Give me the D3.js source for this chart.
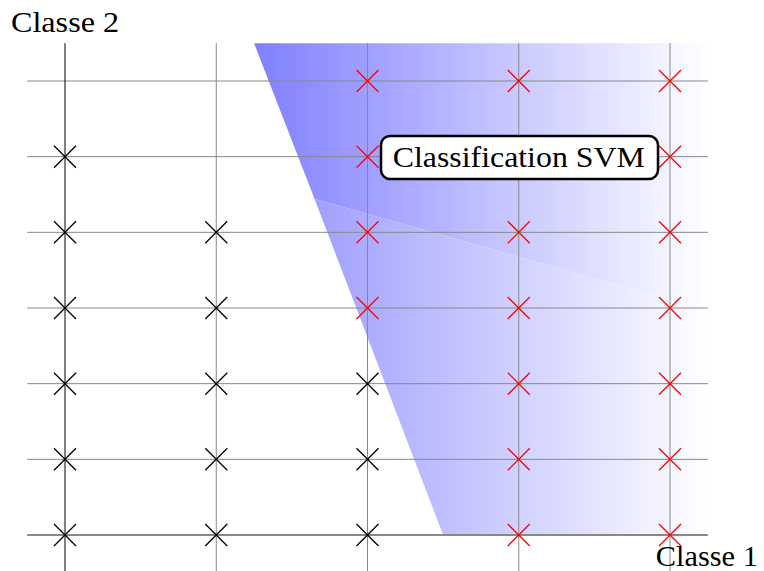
<!DOCTYPE html>
<html><head><meta charset="utf-8">
<script src="https://cdn.jsdelivr.net/npm/d3@7"></script>
<style>body{margin:0;background:#fff}svg{display:block}</style>
</head><body>
<script>
// Data
const xTicks = [0, 1, 2, 3, 4];
const yTicks = [0, 1, 2, 3, 4, 5, 6];
const class1Points = [ // black crosses
  [0,0],[0,1],[0,2],[0,3],[0,4],[0,5],
  [1,0],[1,1],[1,2],[1,3],[1,4],
  [2,0],[2,1],[2,2]
];
const class2Points = [ // red crosses
  [2,3],[2,4],[2,5],[2,6],
  [3,0],[3,1],[3,2],[3,3],[3,4],[3,5],[3,6],
  [4,0],[4,1],[4,2],[4,3],[4,4],[4,5],[4,6]
];
const regionUpper = [[1.25,6.5],[4.25,6.5],[4.25,2.97],[1.65,4.44]];
const regionLower = [[1.65,4.44],[4.25,2.97],[4.25,0],[2.5,0]];
const gradUpperX = [1.25, 4.25];
const gradLowerX = [0.75, 4.25];
const xDomain = [-0.25, 4.25];
const yDomain = [-0.5, 6.5];
const labelText = "Classification SVM";
const labelPos = [3, 5];
const xAxisLabel = "Classe 1";
const yAxisLabel = "Classe 2";

const W = 764, H = 571;
const x = d3.scaleLinear().domain([0, 4]).range([65, 670]);
const y = d3.scaleLinear().domain([0, 6]).range([535, 81]);

const svg = d3.select("body").append("svg").attr("width", W).attr("height", H);
const defs = svg.append("defs");

function addGrad(id, gx) {
  const g = defs.append("linearGradient").attr("id", id)
    .attr("gradientUnits", "userSpaceOnUse")
    .attr("x1", x(gx[0])).attr("x2", x(gx[1])).attr("y1", 0).attr("y2", 0);
  g.append("stop").attr("offset", 0).attr("stop-color", "rgb(127,127,255)");
  g.append("stop").attr("offset", 1).attr("stop-color", "#fff");
}
addGrad("gU", gradUpperX);
addGrad("gL", gradLowerX);

const line = d3.line().x(d => x(d[0])).y(d => y(d[1]));
svg.append("path").attr("d", line(regionUpper) + "Z").attr("fill", "url(#gU)");
svg.append("path").attr("d", line(regionLower) + "Z").attr("fill", "url(#gL)");

// grid
const grid = svg.append("g");
grid.selectAll("line.h").data(yTicks).join("line").attr("class", "h")
  .attr("x1", x(xDomain[0])).attr("x2", x(xDomain[1]))
  .attr("y1", d => y(d)).attr("y2", d => y(d))
  .attr("stroke", "#888").attr("stroke-width", d => d === 0 ? 2 : 1);
grid.selectAll("line.v").data(xTicks).join("line").attr("class", "v")
  .attr("y1", y(yDomain[1])).attr("y2", y(yDomain[0]))
  .attr("x1", d => x(d)).attr("x2", d => x(d))
  .attr("stroke", d => d === 0 ? "#000" : "#888").attr("stroke-width", 1);

// crosses
const s = 11;
function crosses(data, color, cls) {
  const g = svg.append("g").attr("class", cls).attr("stroke", color).attr("stroke-width", 1.3);
  g.selectAll("path").data(data).join("path")
    .attr("d", d => {
      const cx = x(d[0]), cy = y(d[1]);
      return `M${cx-s},${cy-s}L${cx+s},${cy+s}M${cx-s},${cy+s}L${cx+s},${cy-s}`;
    });
}
crosses(class1Points, "#000", "c1");
crosses(class2Points, "#f00", "c2");

const font = "'Liberation Serif', serif";
// label box
const lbl = svg.append("g");
lbl.append("rect")
  .attr("x", 381).attr("y", 136).attr("width", 658 - 381).attr("height", 179 - 136)
  .attr("rx", 9).attr("fill", "#fff").attr("stroke", "#000").attr("stroke-width", 2.5);
lbl.append("text").attr("x", x(labelPos[0])).attr("y", y(labelPos[1]) + 10)
  .attr("text-anchor", "middle").attr("font-family", font).attr("font-size", 30)
  .attr("textLength", 252).attr("lengthAdjust", "spacingAndGlyphs")
  .text(labelText);

svg.append("text").attr("x", x(0)).attr("y", 32).attr("text-anchor", "middle")
  .attr("font-family", font).attr("font-size", 30)
  .attr("textLength", 108).attr("lengthAdjust", "spacingAndGlyphs").text(yAxisLabel);
svg.append("text").attr("x", x(xDomain[1]) - 1).attr("y", 566).attr("text-anchor", "middle")
  .attr("font-family", font).attr("font-size", 30)
  .attr("textLength", 102).attr("lengthAdjust", "spacingAndGlyphs").text(xAxisLabel);
</script>
</body></html>
